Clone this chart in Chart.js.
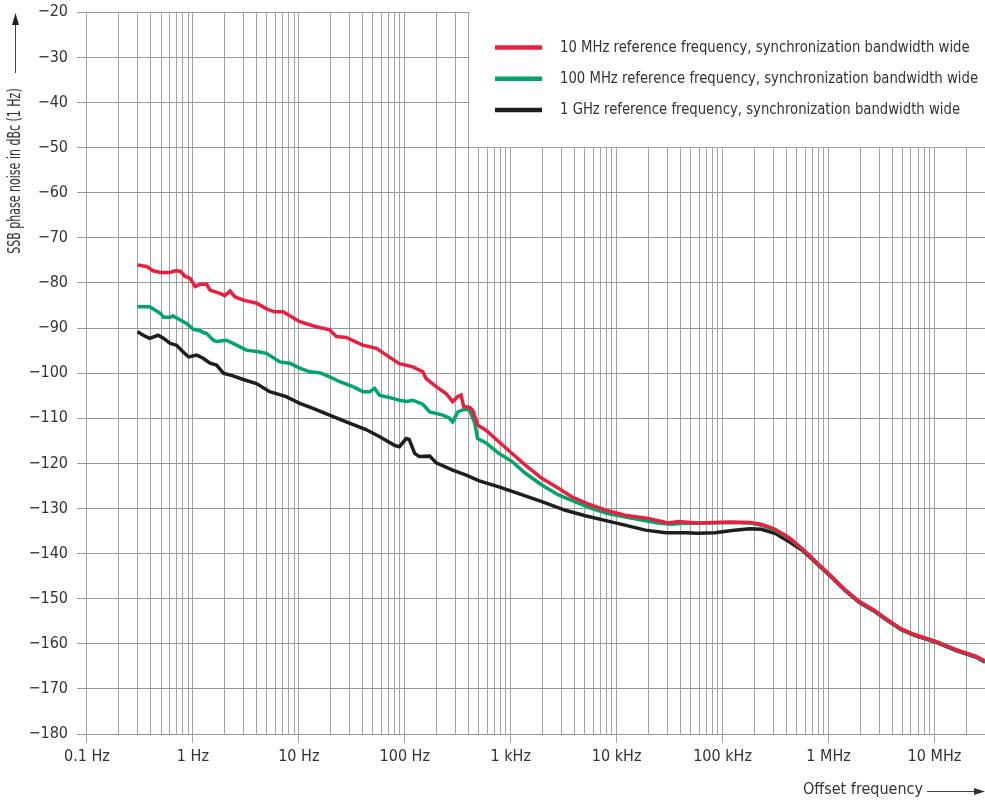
<!DOCTYPE html>
<html>
<head>
<meta charset="utf-8">
<script src="https://cdn.jsdelivr.net/npm/chart.js@4/dist/chart.umd.min.js"></script>
<style>
  html, body { margin: 0; padding: 0; background: #fff; }
</style>
</head>
<body>
<canvas id="noiseChart" width="985" height="806"></canvas>
<script>
// offset frequency (Hz) / SSB phase noise (dBc)
const redFreq = [0.3, 0.37, 0.42, 0.5, 0.6, 0.68, 0.76, 0.84, 0.94, 1.05, 1.17, 1.35, 1.45, 1.8, 2.0, 2.24, 2.5, 3.0, 4.0, 5.0, 5.9, 7.1, 10.2, 14.6, 19.5, 22.6, 28, 40, 54, 67, 89, 119, 148, 159, 198, 245, 283, 317, 340, 360, 410, 438, 487, 580, 773, 1030, 1375, 1966, 2820, 3760, 5350, 7910, 12000, 19900, 30600, 38400, 58000, 116000, 180000, 232000, 313000, 425000, 576000, 781000, 1.06e6, 1.43e6, 1.94e6, 2.63e6, 3.57e6, 4.85e6, 6.57e6, 1.04e7, 1.6e7, 2.48e7, 3e7];
const redDb = [-76.0, -76.4, -77.3, -77.7, -77.7, -77.3, -77.4, -78.5, -79.0, -80.8, -80.3, -80.3, -81.6, -82.3, -82.8, -81.8, -83.1, -83.8, -84.5, -85.8, -86.4, -86.4, -88.6, -89.7, -90.4, -91.9, -92.1, -93.8, -94.5, -96.0, -97.9, -98.6, -99.7, -101.2, -103.0, -104.5, -106.3, -105.2, -104.9, -107.4, -107.6, -108.2, -111.5, -112.6, -115.2, -117.8, -120.4, -123.3, -125.5, -127.4, -129.0, -130.4, -131.5, -132.2, -133.2, -132.9, -133.2, -133.0, -133.1, -133.5, -134.6, -136.5, -139.1, -142.1, -145.0, -148.0, -150.6, -152.4, -154.6, -156.7, -158.0, -159.5, -161.3, -162.8, -163.8];

const greenFreq = [0.3, 0.39, 0.49, 0.53, 0.61, 0.65, 0.76, 0.87, 1.01, 1.17, 1.25, 1.35, 1.56, 1.67, 2.08, 2.58, 3.2, 4.27, 4.95, 6.6, 8.2, 10.2, 12.6, 15.7, 19.5, 24.3, 32.4, 40.3, 46.6, 52, 57.6, 77, 89, 103, 119, 148, 172, 229, 264, 283, 317, 367, 410, 457, 487, 580, 773, 1030, 1375, 1966, 2820, 4030, 5750, 8230, 13960, 24600, 33000, 44800, 58000, 116000, 180000, 232000, 313000, 425000, 576000, 781000, 1.06e6, 1.43e6, 1.94e6, 2.63e6, 3.57e6, 4.85e6, 6.57e6, 1.04e7, 1.6e7, 2.48e7, 3e7];
const greenDb = [-85.3, -85.3, -86.7, -87.6, -87.6, -87.3, -88.2, -89.0, -90.3, -90.6, -91.0, -91.2, -92.7, -93.0, -92.7, -93.8, -94.9, -95.3, -95.6, -97.5, -97.8, -98.9, -99.7, -99.9, -100.8, -101.9, -103.0, -104.1, -104.1, -103.4, -104.9, -105.6, -106.0, -106.3, -106.0, -106.9, -108.6, -109.3, -110.0, -110.8, -108.6, -108.0, -108.2, -111.1, -114.5, -115.4, -117.8, -119.6, -122.2, -124.8, -127.0, -128.5, -130.0, -131.1, -132.2, -133.2, -133.5, -133.2, -133.3, -133.1, -133.2, -133.7, -134.8, -136.6, -139.2, -142.2, -145.1, -148.1, -150.7, -152.5, -154.7, -156.8, -158.1, -159.6, -161.4, -162.9, -164.0];

const blackFreq = [0.3, 0.34, 0.39, 0.47, 0.53, 0.61, 0.7, 0.81, 0.91, 1.09, 1.25, 1.45, 1.67, 1.94, 2.39, 2.98, 3.98, 5.3, 7.6, 10.2, 13.6, 19.5, 28, 43, 58, 80, 89, 103, 110, 124, 137, 172, 198, 283, 380, 505, 773, 1190, 1966, 3280, 5060, 7910, 12000, 18700, 29100, 44800, 58000, 84800, 123000, 180000, 232000, 313000, 425000, 576000, 781000, 1.06e6, 1.43e6, 1.94e6, 2.63e6, 3.57e6, 4.85e6, 6.57e6, 1.04e7, 1.6e7, 2.48e7, 3e7];
const blackDb = [-90.8, -91.6, -92.3, -91.6, -92.3, -93.4, -93.8, -95.3, -96.4, -96.0, -96.7, -97.8, -98.2, -100.0, -100.6, -101.4, -102.3, -104.1, -105.2, -106.7, -107.8, -109.3, -110.8, -112.5, -114.1, -116.0, -116.3, -114.5, -114.7, -117.8, -118.5, -118.4, -119.9, -121.5, -122.6, -123.9, -125.2, -126.7, -128.5, -130.4, -131.6, -132.7, -133.7, -134.8, -135.4, -135.4, -135.5, -135.4, -134.9, -134.5, -134.6, -135.5, -137.4, -139.4, -142.3, -145.2, -148.2, -150.8, -152.6, -154.8, -156.9, -158.2, -159.7, -161.5, -163.0, -164.1];

const seriesLabels = [
  '10 MHz reference frequency, synchronization bandwidth wide',
  '100 MHz reference frequency, synchronization bandwidth wide',
  '1 GHz reference frequency, synchronization bandwidth wide'
];

const xTickValues = [0.1, 1, 10, 100, 1e3, 1e4, 1e5, 1e6, 1e7];
const xTickLabels = ['0.1 Hz', '1 Hz', '10 Hz', '100 Hz', '1 kHz', '10 kHz', '100 kHz', '1 MHz', '10 MHz'];
const yMin = -180, yMax = -20, yStep = 10;

const FONT = '"Liberation Sans Narrow", "Arial Narrow", "DejaVu Sans Condensed", sans-serif';
const TEXT = '#333';
const COLORS = ['#e8203c', '#00a46c', '#1e1e1e'];

function toPoints(xs, ys) {
  return xs.map((x, i) => ({ x: x, y: ys[i] }));
}

// text squeezed horizontally, the original face is narrower than what we have
function narrowText(ctx, text, x, y, squeeze) {
  ctx.save();
  ctx.translate(x, y);
  ctx.scale(squeeze, 1);
  ctx.fillText(text, 0, 0);
  ctx.restore();
}

// white legend panel, legend entries, axis titles with arrows
const decorations = {
  id: 'decorations',
  beforeDatasetsDraw(chart) {
    const { ctx, scales } = chart;
    const left = scales.x.getPixelForValue(400) + 1;
    const bottom = scales.y.getPixelForValue(-50) - 0.5;
    ctx.save();
    ctx.fillStyle = '#fff';
    ctx.fillRect(left, 0, chart.width - left, bottom);
    ctx.restore();
  },
  afterDraw(chart) {
    const ctx = chart.ctx;
    ctx.save();

    // legend
    ctx.font = '16px ' + FONT;
    ctx.textBaseline = 'middle';
    ctx.textAlign = 'left';
    chart.data.datasets.forEach((ds, i) => {
      const y = 47.5 + i * 31.3;
      ctx.strokeStyle = ds.borderColor;
      ctx.lineWidth = 4.5;
      ctx.beginPath();
      ctx.moveTo(495, y);
      ctx.lineTo(542, y);
      ctx.stroke();
      ctx.fillStyle = TEXT;
      narrowText(ctx, ds.label, 560, y, 0.92);
    });

    // y title + arrow
    ctx.save();
    ctx.translate(16, 171);
    ctx.rotate(-Math.PI / 2);
    ctx.textAlign = 'center';
    ctx.fillStyle = TEXT;
    ctx.font = '17px ' + FONT;
    narrowText(ctx, 'SSB phase noise in dBc (1 Hz)', 0, 0, 0.72);
    ctx.restore();

    ctx.strokeStyle = '#444';
    ctx.fillStyle = '#222';
    ctx.lineWidth = 1;
    ctx.beginPath();
    ctx.moveTo(15.5, 73);
    ctx.lineTo(15.5, 24);
    ctx.stroke();
    ctx.beginPath();
    ctx.moveTo(15.5, 13);
    ctx.lineTo(12, 25);
    ctx.lineTo(19, 25);
    ctx.closePath();
    ctx.fill();

    // x title + arrow
    ctx.font = '16px ' + FONT;
    ctx.fillStyle = TEXT;
    ctx.textAlign = 'left';
    ctx.fillText('Offset frequency', 803, 790);
    ctx.beginPath();
    ctx.moveTo(927, 791.5);
    ctx.lineTo(975, 791.5);
    ctx.stroke();
    ctx.beginPath();
    ctx.moveTo(985, 791.5);
    ctx.lineTo(974, 788);
    ctx.lineTo(974, 795);
    ctx.closePath();
    ctx.fill();

    ctx.restore();
  }
};

const ctx = document.getElementById('noiseChart').getContext('2d');
new Chart(ctx, {
  type: 'line',
  data: {
    datasets: [
      { label: seriesLabels[0], data: toPoints(redFreq, redDb), borderColor: COLORS[0] },
      { label: seriesLabels[1], data: toPoints(greenFreq, greenDb), borderColor: COLORS[1] },
      { label: seriesLabels[2], data: toPoints(blackFreq, blackDb), borderColor: COLORS[2] }
    ]
  },
  options: {
    responsive: false,
    animation: false,
    layout: { padding: { top: 12.3, right: 0, left: 0, bottom: 0 } },
    elements: {
      line: { borderWidth: 3.5, tension: 0, fill: false },
      point: { radius: 0 }
    },
    plugins: {
      legend: { display: false },
      tooltip: { enabled: false }
    },
    scales: {
      x: {
        type: 'logarithmic',
        min: 0.0805,
        max: 3e7,
        afterBuildTicks(scale) {
          const ticks = [];
          xTickValues.forEach(dec => {
            for (let m = 1; m <= 9; m++) {
              const v = dec * m;
              if (v <= scale.max) ticks.push({ value: v, major: m === 1 });
            }
          });
          scale.ticks = ticks;
        },
        afterFit(scale) {
          scale.height = 72;
          scale.paddingLeft = 0;
          scale.paddingRight = 0;
        },
        border: { display: false },
        grid: {
          color: '#a3a3a3',
          lineWidth: 1,
          drawTicks: true,
          tickLength: 9,
          tickColor: c => (c.tick && c.tick.major ? '#a3a3a3' : 'rgba(0,0,0,0)')
        },
        ticks: {
          autoSkip: false,
          maxRotation: 0,
          padding: 4,
          color: TEXT,
          font: { family: FONT, size: 16 },
          callback: value => {
            const i = xTickValues.findIndex(v => Math.abs(v - value) / v < 1e-6);
            return i >= 0 ? xTickLabels[i] : '';
          }
        }
      },
      y: {
        min: yMin,
        max: yMax,
        afterFit(scale) {
          scale.width = 77;
          scale.paddingTop = 0;
          scale.paddingBottom = 0;
        },
        border: { display: false },
        grid: { color: '#999', lineWidth: 1, drawTicks: false },
        ticks: {
          stepSize: yStep,
          padding: 9,
          color: TEXT,
          font: { family: FONT, size: 16 },
          callback: v => String(v).replace('-', '\u2212')
        }
      }
    }
  },
  plugins: [decorations]
});
</script>
</body>
</html>
